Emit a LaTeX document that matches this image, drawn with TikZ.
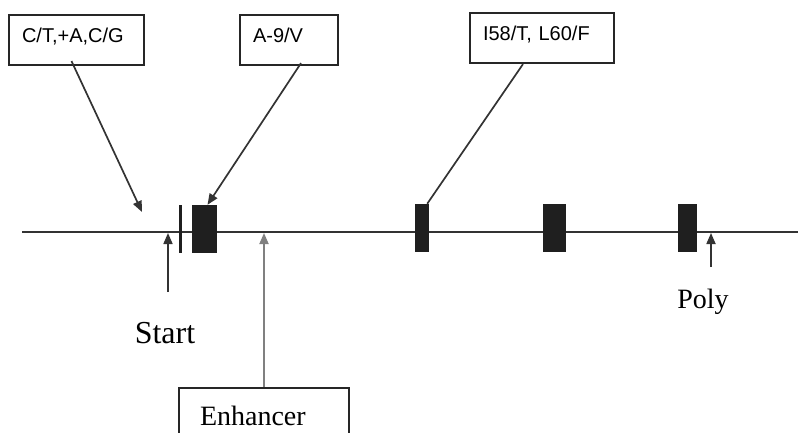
\documentclass[tikz,border=0pt]{standalone}
\usepackage{fontspec}
\setmainfont{Liberation Serif}
\newfontfamily\boxfont{Liberation Sans}
\usetikzlibrary{arrows.meta,positioning,calc}

\begin{document}
\begin{tikzpicture}[
  x=1pt, y=-1pt, >={Triangle[length=11pt,width=9pt]},
  exon/.style={rectangle, fill=black!88, draw=none, minimum height=48pt, inner sep=0pt},
  callout/.style={rectangle, draw=black!85, line width=2.2pt, minimum height=50pt,
                  inner xsep=0pt, align=left, text depth=9pt,
                  font=\boxfont\fontsize{20}{23}\selectfont},
  lbl/.style={font=\fontsize{30}{34}\selectfont, inner sep=0pt},
  pointer/.style={->, line width=1.7pt, black!80}]

  \clip (0,0) rectangle (798,433);

  % the gene
  \coordinate (l0) at (22,232);
  \coordinate (l1) at (798,232);
  \draw[line width=2pt, black!80] (l0) -- (l1);

  \node[exon, minimum width=3pt] (bar) at (180,229) {};
  \node[exon, minimum width=25pt] (ex1) at (204.5,229) {};
  \node[exon, minimum width=14pt] (ex2) at (422,228) {};
  \node[exon, minimum width=23pt] (ex3) at (554.5,228) {};
  \node[exon, minimum width=19pt] (ex4) at (687.5,228) {};

  % variant boxes
  \node[callout, minimum width=135pt, text width=109pt] (v1) at (76.5,40) {C/T,+A,C/G};
  \node[callout, minimum width=98pt, text width=72pt] (v2) at (289,40) {A-9/V};
  \node[callout, minimum width=144pt, text width=118pt] (v3) at (542,38) {I58/T, L60/F};

  \coordinate (hit1) at (142,212);
  \draw[pointer] ([xshift=-5pt,yshift=5pt]v1.south) -- (hit1);
  \draw[pointer] ([xshift=12pt,yshift=3pt]v2.south) -- ([xshift=3pt]ex1.north);
  \draw[line width=1.7pt, black!80] ([xshift=-19pt]v3.south) -- ([xshift=-2pt]ex2.north east);

  % start, poly, enhancer
  \node[lbl, font=\fontsize{32}{36}\selectfont] (start) at (165,333) {Start};
  \node[lbl, font=\fontsize{28}{32}\selectfont] (poly) at (703,302) {Poly};
  \coordinate (s0) at (168,292);
  \coordinate (s1) at (168,233);
  \coordinate (p0) at (711,267);
  \coordinate (p1) at (711,233);
  \draw[pointer] (s0) -- (s1);
  \draw[pointer] (p0) -- (p1);

  \node[callout, minimum width=170pt, minimum height=56pt, text width=128pt, text depth=,
        font=\fontsize{28}{32}\selectfont] (enh) at (264,416) {Enhancer};
  \coordinate (e1) at (264,233);
  \draw[->, line width=1.8pt, black!50] (enh.north) -- (e1);
\end{tikzpicture}
\end{document}
